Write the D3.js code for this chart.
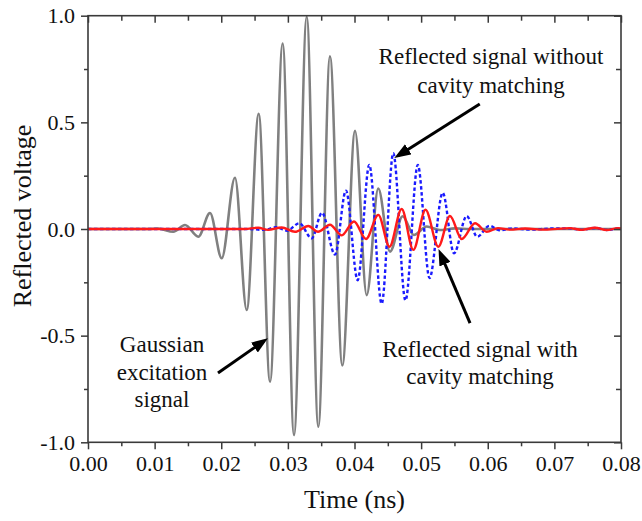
<!DOCTYPE html>
<html>
<head>
<meta charset="utf-8">
<script src="https://cdn.jsdelivr.net/npm/d3@7"></script>
<style>
  body { margin: 0; background: #fff; }
  svg { display: block; }
  text { font-family: "Liberation Serif", "DejaVu Serif", serif; fill: #111; }
</style>
</head>
<body>
<div id="chart"></div>
<script>
// values (time in ns, voltage normalised)
var gaussT = [0, 0.0090, 0.0105, 0.0128, 0.01456, 0.01656, 0.01831, 0.02007, 0.02206, 0.02382, 0.02562, 0.02732, 0.02922, 0.03092, 0.03283, 0.03457, 0.03632, 0.03817, 0.04008, 0.04183, 0.04357, 0.04533, 0.04723, 0.04889, 0.05084, 0.05283, 0.05508, 0.05734, 0.08];
var gaussV = [0, 0, 0.002, -0.013, 0.019, -0.036, 0.075, -0.137, 0.24, -0.38, 0.54, -0.716, 0.87, -0.966, 0.995, -0.927, 0.81, -0.64, 0.46, -0.31, 0.19, -0.106, 0.06, -0.028, 0.012, -0.005, 0.003, 0, 0];

var noMatchT = [0, 0.0240, 0.02642, 0.02822, 0.02987, 0.03172, 0.03358, 0.03512, 0.03707, 0.03872, 0.04048, 0.04222, 0.04408, 0.04582, 0.04765, 0.04950, 0.05126, 0.05324, 0.05493, 0.05684, 0.05843, 0.06023, 0.06184, 0.06364, 0.06634, 0.06934, 0.07235, 0.07415, 0.0761, 0.0779, 0.07955, 0.08];
var noMatchV = [0, 0, -0.004, 0.008, -0.008, 0.027, -0.044, 0.076, -0.12, 0.18, -0.24, 0.30, -0.35, 0.355, -0.335, 0.30, -0.23, 0.17, -0.114, 0.061, -0.036, 0.015, -0.006, 0.003, -0.003, 0.002, 0.003, -0.004, 0.005, -0.005, 0.003, 0.002];

var matchT = [0, 0.0235, 0.02556, 0.02702, 0.02907, 0.03107, 0.03307, 0.03452, 0.03632, 0.03808, 0.03992, 0.04173, 0.04357, 0.04525, 0.04708, 0.04883, 0.05066, 0.05258, 0.05433, 0.05609, 0.05809, 0.05984, 0.06154, 0.06334, 0.06559, 0.06859, 0.07235, 0.0741, 0.0761, 0.07785, 0.07955, 0.08];
var matchV = [0, 0, 0.006, -0.004, 0.007, -0.013, 0.014, -0.013, 0.02, -0.03, 0.035, -0.047, 0.066, -0.083, 0.094, -0.098, 0.09, -0.083, 0.061, -0.047, 0.027, -0.013, 0.004, -0.003, 0.002, -0.003, 0.004, -0.004, 0.006, -0.005, 0.004, 0.003];

var xTicks = [0, 0.01, 0.02, 0.03, 0.04, 0.05, 0.06, 0.07, 0.08];
var xTickLabels = ["0.00", "0.01", "0.02", "0.03", "0.04", "0.05", "0.06", "0.07", "0.08"];
var xMinor = [0.005, 0.015, 0.025, 0.035, 0.045, 0.055, 0.065, 0.075];
var yTicks = [-1, -0.5, 0, 0.5, 1];
var yTickLabels = ["-1.0", "-0.5", "0.0", "0.5", "1.0"];
var yMinor = [-0.75, -0.25, 0.25, 0.75];

// annotation text lines [t, v, text] and arrows [t0, v0, t1, v1]
var notes = [
  [0.06049, 0.772, "Reflected signal without"],
  [0.06049, 0.638, "cavity matching"],
  [0.05884, -0.599, "Reflected signal with"],
  [0.05884, -0.727, "cavity matching"],
  [0.01111, -0.575, "Gaussian"],
  [0.01111, -0.708, "excitation"],
  [0.01111, -0.833, "signal"]
];
var arrows = [
  [0.05880, 0.586, 0.04660, 0.345],
  [0.05734, -0.441, 0.05290, -0.115],
  [0.01951, -0.675, 0.02640, -0.525]
];

var width = 642, height = 521;
var margin = { top: 15.7, right: 21, bottom: 78.7, left: 88 };
var innerW = width - margin.left - margin.right;
var innerH = height - margin.top - margin.bottom;

var svg = d3.select("#chart").append("svg")
  .attr("width", width)
  .attr("height", height);

var g = svg.append("g")
  .attr("transform", "translate(" + margin.left + "," + margin.top + ")");

var x = d3.scaleLinear().domain([0, 0.08]).range([0, innerW]);
var y = d3.scaleLinear().domain([-1, 1]).range([innerH, 0]);

var defs = svg.append("defs");
defs.append("clipPath").attr("id", "clip")
  .append("rect").attr("width", innerW).attr("height", innerH);
defs.append("marker")
  .attr("id", "head")
  .attr("viewBox", "0 0 10 10")
  .attr("preserveAspectRatio", "none")
  .attr("refX", 7).attr("refY", 5)
  .attr("markerWidth", 5.5).attr("markerHeight", 4)
  .attr("markerUnits", "strokeWidth")
  .attr("orient", "auto")
  .append("path")
  .attr("d", "M0,0 L10,5 L0,10 Z")
  .attr("fill", "#000");

// curves
var line = d3.line()
  .x(function (d) { return x(d[0]); })
  .y(function (d) { return y(d[1]); })
  .curve(d3.curveMonotoneX);

function zip(ts, vs) { return ts.map(function (t, i) { return [t, vs[i]]; }); }

var plot = g.append("g").attr("clip-path", "url(#clip)");
plot.append("path")
  .attr("d", line(zip(gaussT, gaussV)))
  .attr("fill", "none")
  .attr("stroke", "#808080")
  .attr("stroke-width", 2.6);
plot.append("path")
  .attr("d", line(zip(noMatchT, noMatchV)))
  .attr("fill", "none")
  .attr("stroke", "#1a1aff")
  .attr("stroke-width", 2.4)
  .attr("stroke-dasharray", "3.5,2.5");
plot.append("path")
  .attr("d", line(zip(matchT, matchV)))
  .attr("fill", "none")
  .attr("stroke", "#ff1a1a")
  .attr("stroke-width", 2.4);

// axes: outward ticks on bottom/left, inward on top/right
var axisColor = "#3a3a3a";
function styleAxis(sel) {
  sel.select(".domain").remove();
  sel.selectAll("line").attr("stroke", axisColor).attr("stroke-width", 1.5);
  sel.selectAll("text").style("font-size", "22px").attr("fill", "#111");
}

g.append("g").attr("transform", "translate(0," + innerH + ")")
  .call(d3.axisBottom(x).tickValues(xTicks).tickSize(7).tickPadding(6)
    .tickFormat(function (d, i) { return xTickLabels[i]; }))
  .call(styleAxis);
g.append("g").attr("transform", "translate(0," + innerH + ")")
  .call(d3.axisBottom(x).tickValues(xMinor).tickSize(4).tickFormat(""))
  .call(styleAxis);
g.append("g")
  .call(d3.axisLeft(y).tickValues(yTicks).tickSize(7).tickPadding(6)
    .tickFormat(function (d, i) { return yTickLabels[i]; }))
  .call(styleAxis);
g.append("g")
  .call(d3.axisLeft(y).tickValues(yMinor).tickSize(4).tickFormat(""))
  .call(styleAxis);
g.append("g")
  .call(d3.axisTop(x).tickValues(xTicks).tickSize(-7).tickFormat(""))
  .call(styleAxis);
g.append("g")
  .call(d3.axisTop(x).tickValues(xMinor).tickSize(-5).tickFormat(""))
  .call(styleAxis);
g.append("g").attr("transform", "translate(" + innerW + ",0)")
  .call(d3.axisRight(y).tickValues(yTicks).tickSize(-7).tickFormat(""))
  .call(styleAxis);
g.append("g").attr("transform", "translate(" + innerW + ",0)")
  .call(d3.axisRight(y).tickValues(yMinor).tickSize(-5).tickFormat(""))
  .call(styleAxis);

g.append("rect")
  .attr("width", innerW)
  .attr("height", innerH)
  .attr("fill", "none")
  .attr("stroke", axisColor)
  .attr("stroke-width", 1.6);

// axis titles
svg.append("text")
  .attr("x", margin.left + innerW / 2)
  .attr("y", 508)
  .attr("text-anchor", "middle")
  .style("font-size", "26px")
  .text("Time (ns)");
svg.append("text")
  .attr("transform", "translate(31,216) rotate(-90)")
  .attr("text-anchor", "middle")
  .style("font-size", "26px")
  .text("Reflected voltage");

// annotations
g.selectAll(".note")
  .data(notes)
  .enter()
  .append("text")
  .attr("class", "note")
  .attr("x", function (d) { return x(d[0]); })
  .attr("y", function (d) { return y(d[1]); })
  .attr("text-anchor", "middle")
  .style("font-size", "23px")
  .text(function (d) { return d[2]; });

g.selectAll(".arrow")
  .data(arrows)
  .enter()
  .append("line")
  .attr("class", "arrow")
  .attr("x1", function (d) { return x(d[0]); })
  .attr("y1", function (d) { return y(d[1]); })
  .attr("x2", function (d) { return x(d[2]); })
  .attr("y2", function (d) { return y(d[3]); })
  .attr("stroke", "#000")
  .attr("stroke-width", 3)
  .attr("marker-end", "url(#head)");
</script>
</body>
</html>
